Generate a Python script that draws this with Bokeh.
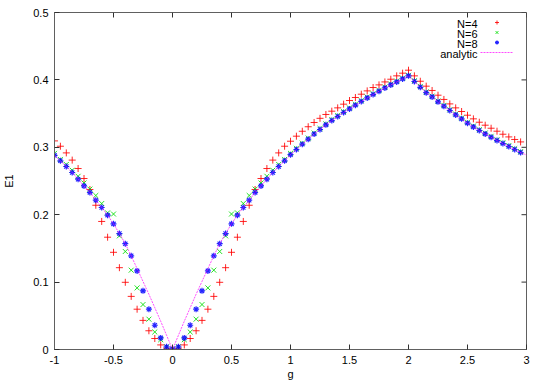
from bokeh.plotting import figure
from bokeh.models import Range1d, FixedTicker, Legend, LegendItem, Label
from bokeh.embed import file_html
from bokeh.resources import INLINE

g = [-1.00, -0.95, -0.90, -0.85, -0.80, -0.75, -0.70, -0.65, -0.60, -0.55,
     -0.50, -0.45, -0.40, -0.35, -0.30, -0.25, -0.20, -0.15, -0.10, -0.05,
     0.00, 0.05, 0.10, 0.15, 0.20, 0.25, 0.30, 0.35, 0.40, 0.45,
     0.50, 0.55, 0.60, 0.65, 0.70, 0.75, 0.80, 0.85, 0.90, 0.95,
     1.00, 1.05, 1.10, 1.15, 1.20, 1.25, 1.30, 1.35, 1.40, 1.45,
     1.50, 1.55, 1.60, 1.65, 1.70, 1.75, 1.80, 1.85, 1.90, 1.95,
     2.00, 2.05, 2.10, 2.15, 2.20, 2.25, 2.30, 2.35, 2.40, 2.45,
     2.50, 2.55, 2.60, 2.65, 2.70, 2.75, 2.80, 2.85, 2.90, 2.95]

e1_n4 = [0.3095, 0.3016, 0.2917, 0.2810, 0.2685, 0.2537, 0.2374, 0.2140, 0.1900, 0.1666,
         0.1442, 0.1214, 0.0997, 0.0788, 0.0598, 0.0432, 0.0278, 0.0163, 0.0068, 0.0020,
         0.0005, 0.0020, 0.0068, 0.0163, 0.0278, 0.0432, 0.0598, 0.0788, 0.0997, 0.1214,
         0.1442, 0.1666, 0.1900, 0.2140, 0.2374, 0.2537, 0.2685, 0.2810, 0.2917, 0.3016,
         0.3090, 0.3165, 0.3238, 0.3305, 0.3368, 0.3430, 0.3487, 0.3536, 0.3585, 0.3640,
         0.3694, 0.3739, 0.3788, 0.3837, 0.3887, 0.3926, 0.3970, 0.4010, 0.4060, 0.4100,
         0.4144, 0.4060, 0.3980, 0.3907, 0.3843, 0.3773, 0.3710, 0.3644, 0.3585, 0.3531,
         0.3476, 0.3422, 0.3372, 0.3328, 0.3283, 0.3239, 0.3194, 0.3154, 0.3116, 0.3080]

e1_n6 = [0.2910, 0.2820, 0.2745, 0.2660, 0.2570, 0.2470, 0.2380, 0.2285, 0.2166, 0.2027,
         0.2010, 0.1686, 0.1454, 0.1177, 0.0914, 0.0667, 0.0450, 0.0260, 0.0145, 0.0040,
         0.0010, 0.0040, 0.0145, 0.0260, 0.0450, 0.0667, 0.0914, 0.1177, 0.1454, 0.1686,
         0.2010, 0.2027, 0.2166, 0.2285, 0.2380, 0.2470, 0.2570, 0.2660, 0.2745, 0.2820,
         0.2910, 0.2985, 0.3062, 0.3137, 0.3212, 0.3280, 0.3348, 0.3412, 0.3472, 0.3530,
         0.3585, 0.3639, 0.3693, 0.3746, 0.3796, 0.3845, 0.3893, 0.3938, 0.3982, 0.4026,
         0.4068, 0.3988, 0.3903, 0.3823, 0.3760, 0.3687, 0.3622, 0.3558, 0.3494, 0.3435,
         0.3371, 0.3316, 0.3262, 0.3212, 0.3163, 0.3113, 0.3069, 0.3025, 0.2980, 0.2936]

e1_n8 = [0.2880, 0.2800, 0.2715, 0.2626, 0.2527, 0.2427, 0.2329, 0.2215, 0.2107, 0.1993,
         0.1864, 0.1720, 0.1570, 0.1390, 0.1166, 0.0870, 0.0598, 0.0360, 0.0172, 0.0040,
         0.0010, 0.0040, 0.0172, 0.0360, 0.0598, 0.0870, 0.1166, 0.1390, 0.1570, 0.1720,
         0.1864, 0.1993, 0.2107, 0.2215, 0.2329, 0.2427, 0.2527, 0.2626, 0.2715, 0.2800,
         0.2890, 0.2967, 0.3046, 0.3120, 0.3197, 0.3264, 0.3333, 0.3397, 0.3457, 0.3516,
         0.3570, 0.3625, 0.3680, 0.3733, 0.3783, 0.3832, 0.3881, 0.3926, 0.3970, 0.4015,
         0.4060, 0.3976, 0.3890, 0.3810, 0.3748, 0.3674, 0.3610, 0.3546, 0.3481, 0.3422,
         0.3358, 0.3303, 0.3249, 0.3199, 0.3150, 0.3100, 0.3056, 0.3012, 0.2967, 0.2923]

g_analytic = g + [3.00]
e1_analytic = [0.2880, 0.2800, 0.2715, 0.2626, 0.2527, 0.2427, 0.2329, 0.2215, 0.2107, 0.1993,
               0.1864, 0.1720, 0.1570, 0.1390, 0.1200, 0.1010, 0.0820, 0.0620, 0.0420, 0.0210,
               0.0000, 0.0210, 0.0420, 0.0620, 0.0820, 0.1010, 0.1200, 0.1390, 0.1570, 0.1720,
               0.1864, 0.1993, 0.2107, 0.2215, 0.2329, 0.2427, 0.2527, 0.2626, 0.2715, 0.2800,
               0.2890, 0.2967, 0.3046, 0.3120, 0.3197, 0.3264, 0.3333, 0.3397, 0.3457, 0.3516,
               0.3570, 0.3625, 0.3680, 0.3733, 0.3783, 0.3832, 0.3881, 0.3926, 0.3970, 0.4015,
               0.4060, 0.3976, 0.3890, 0.3810, 0.3748, 0.3674, 0.3610, 0.3546, 0.3481, 0.3422,
               0.3358, 0.3303, 0.3249, 0.3199, 0.3150, 0.3100, 0.3056, 0.3012, 0.2967, 0.2923,
               0.2885]

series_labels = ["N=4", "N=6", "N=8", "analytic"]

x_ticks = [-1, -0.5, 0, 0.5, 1, 1.5, 2, 2.5, 3]
x_tick_labels = ["-1", "-0.5", "0", "0.5", "1", "1.5", "2", "2.5", "3"]
y_ticks = [0, 0.1, 0.2, 0.3, 0.4, 0.5]
y_tick_labels = ["0", "0.1", "0.2", "0.3", "0.4", "0.5"]

FONT = "Liberation Sans"
AX = "#606060"
X0, X1, Y0, Y1 = -1, 3, 0, 0.5
BL, BR, BT, BB = 54, 19, 12, 33
W, H = 545, 382
TICK = 5  # tick length in pixels

p = figure(width=W, height=H, output_backend="svg", toolbar_location=None,
           x_range=Range1d(X0, X1), y_range=Range1d(Y0, Y1),
           min_border_left=BL, min_border_right=BR, min_border_top=BT, min_border_bottom=BB)
p.grid.visible = False
p.outline_line_color = AX
p.background_fill_color = "white"
p.border_fill_color = "white"

def style_axis(ax, ticks, labels):
    ax.ticker = FixedTicker(ticks=ticks, minor_ticks=[])
    ax.axis_line_color = AX
    ax.major_tick_line_color = "#303030"
    ax.major_tick_in = TICK
    ax.major_tick_out = 0
    ax.minor_tick_in = 0
    ax.minor_tick_out = 0
    ax.major_label_overrides = {t: l for t, l in zip(ticks, labels)}
    ax.major_label_text_font = FONT
    ax.major_label_text_font_size = "11px"
    ax.major_label_text_color = "black"
    ax.axis_label_text_font = FONT
    ax.axis_label_text_font_size = "11px"
    ax.axis_label_text_font_style = "normal"
    ax.axis_label_text_color = "black"

style_axis(p.xaxis[0], x_ticks, x_tick_labels)
p.xaxis[0].major_label_standoff = 6
p.xaxis[0].axis_label = "g"
p.xaxis[0].axis_label_standoff = 1
style_axis(p.yaxis[0], y_ticks, y_tick_labels)
p.yaxis[0].major_label_standoff = 6
p.yaxis[0].axis_label = "E1"
p.yaxis[0].axis_label_standoff = 15

# mirrored inward ticks on the top and right border (gnuplot style)
fw, fh = W - BL - BR, H - BT - BB
ty = TICK * (Y1 - Y0) / fh
tx = TICK * (X1 - X0) / fw
p.segment(x0=x_ticks, y0=[Y1] * len(x_ticks), x1=x_ticks, y1=[Y1 - ty] * len(x_ticks),
          line_color="#303030", line_width=1)
p.segment(x0=[X1] * len(y_ticks), y0=y_ticks, x1=[X1 - tx] * len(y_ticks), y1=y_ticks,
          line_color="#303030", line_width=1)

r4 = p.scatter(g, e1_n4, marker="cross", size=7, line_color="#ff0000", line_width=1, line_alpha=0.85)
r6 = p.scatter(g, e1_n6, marker="x", size=7, line_color="#00dd00", line_width=1, line_alpha=0.85)
r8 = p.scatter(g, e1_n8, marker="asterisk", size=6, line_color="#0000ff", line_width=1.2, line_alpha=0.85)
ra = p.line(g_analytic, e1_analytic, line_color="#ff00ff", line_width=1, line_alpha=0.7, line_dash="2 1")

# gnuplot-style key: right-aligned titles, samples to their right
ROW = 10.3
KEY_TOP = 349 - 23 - 12   # first row centre, measured from the frame bottom (screen px)
KEY_TEXT_X = 477 - 54
KEY_GLYPH_X = 480 - 54
for i, lab in enumerate(series_labels):
    p.add_layout(Label(x=KEY_TEXT_X, y=KEY_TOP + 12 - i * ROW, x_units="screen", y_units="screen",
                       text=lab, text_align="right", text_baseline="middle",
                       text_font=FONT, text_font_size="11px", text_color="black"))

legend = Legend(items=[LegendItem(label="", renderers=[r]) for r in (r4, r6, r8, ra)],
                location=(KEY_GLYPH_X, KEY_TOP + 12 + 6 - 4 * 10), orientation="vertical",
                background_fill_alpha=0, border_line_color=None,
                label_text_font_size="11px", label_standoff=0, label_width=0,
                glyph_width=33, glyph_height=10, label_height=10, spacing=0, padding=0, margin=0)
p.add_layout(legend)

open("out.html", "w").write(file_html(p, INLINE))
